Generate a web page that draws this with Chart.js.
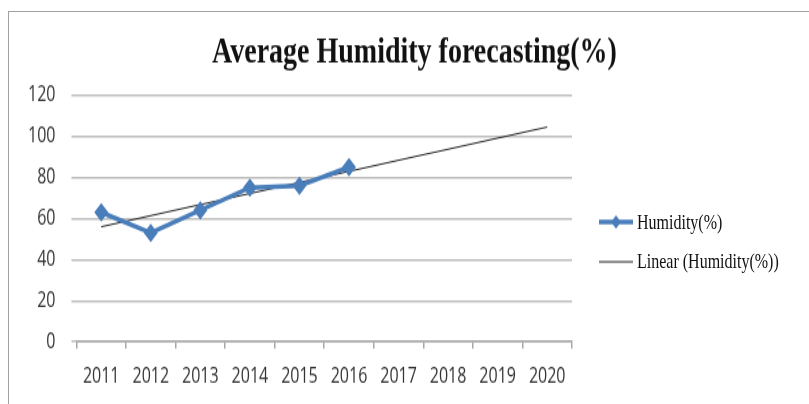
<!DOCTYPE html>
<html>
<head>
<meta charset="utf-8">
<script src="https://cdn.jsdelivr.net/npm/chart.js@4.4.1/dist/chart.umd.min.js"></script>
<style>
  html, body { margin: 0; padding: 0; background: #fff; }
  body { width: 809px; height: 404px; overflow: hidden; position: relative; }
  #marco {
    position: absolute; left: 8px; top: 11px; width: 820px; height: 420px;
    border: 1.5px solid #a0a0a0;
  }
  /* la imagen original esta estirada en vertical */
  #caja {
    position: absolute; left: 0; top: 0; width: 809px; height: 304px;
    transform: scaleY(1.329); transform-origin: 0 0;
  }
  #leyenda {
    position: absolute; left: 598px; top: 152px;
    font-family: "Liberation Serif", serif; font-size: 16px; color: #111;
  }
  .fila { display: flex; align-items: center; height: 30px; white-space: nowrap; }
  .fila canvas { margin-right: 3px; }
</style>
</head>
<body>
<div id="marco"></div>
<div id="caja">
  <canvas id="grafico" width="809" height="304"></canvas>
  <div id="leyenda"></div>
</div>
<script>
  const anios = ["2011", "2012", "2013", "2014", "2015", "2016", "2017", "2018", "2019", "2020"];
  const humedad = [63, 53, 64, 75, 76, 85, null, null, null, null];
  // linea de tendencia: extremos 2011 y 2020
  const tendencia = [56, null, null, null, null, null, null, null, null, 104.5];
  const marcasY = [0, 20, 40, 60, 80, 100, 120];
  const titulo = "Average Humidity forecasting(%)";

  const azul = "#4a7ebb";
  const negro = "#222222";

  // el titulo va centrado en todo el ancho, no sobre el area del grafico
  const tituloCentrado = {
    id: "tituloCentrado",
    afterDraw(chart) {
      const b = chart.titleBlock;
      const c = chart.ctx;
      c.save();
      c.fillStyle = "#111";
      c.font = "bold 28px 'Liberation Serif'";
      c.textAlign = "center";
      c.textBaseline = "middle";
      c.fillText(titulo, chart.width / 2 + 10, (b.top + b.bottom) / 2);
      c.restore();
    },
  };

  const ctx = document.getElementById("grafico").getContext("2d");

  window.miGrafico = new Chart(ctx, {
    type: "line",
    data: {
      labels: anios,
      datasets: [
        {
          label: "Humidity(%)",
          data: humedad,
          borderColor: azul,
          backgroundColor: azul,
          borderWidth: 3.5,
          pointStyle: "rectRot",
          pointRadius: 7,
          pointBorderWidth: 0,
          tension: 0,
        },
        {
          label: "Linear (Humidity(%))",
          data: tendencia,
          spanGaps: true,
          borderColor: negro,
          backgroundColor: negro,
          borderWidth: 1,
          pointRadius: 0,
        },
      ],
    },
    plugins: [tituloCentrado],
    options: {
      responsive: false,
      animation: false,
      layout: { padding: { top: 8, left: 12, right: 237, bottom: 0 } },
      plugins: {
        title: {
          display: true,
          text: titulo,
          color: "rgba(0,0,0,0)",
          font: { family: "Liberation Serif", size: 28, weight: "bold" },
          padding: { top: 13, bottom: 17 },
        },
        legend: { display: false },
        tooltip: { enabled: false },
      },
      scales: {
        x: {
          offset: true,
          afterFit: (eje) => {
            eje.height = 46.8;
          },
          grid: {
            offset: true,
            drawOnChartArea: false,
            drawTicks: true,
            tickLength: 5,
            color: "#a6a6a6",
            lineWidth: 1.5,
          },
          border: { color: "#a6a6a6", width: 1.5 },
          ticks: {
            color: "#333",
            font: { family: "Open Sans", size: 16 },
            padding: 11.5,
            maxRotation: 0,
          },
        },
        y: {
          min: 0,
          max: 120,
          afterBuildTicks: (eje) => {
            eje.ticks = marcasY.map((v) => ({ value: v }));
          },
          grid: {
            color: "#bdbdbd",
            lineWidth: 1.5,
            tickLength: 5,
          },
          border: { display: false },
          ticks: {
            color: "#333",
            font: { family: "Open Sans", size: 16 },
            padding: 16,
          },
        },
      },
    },
  });

  // leyenda a la derecha, con los mismos colores de las series
  function agregarFila(texto, conMarca, color, grosor) {
    const fila = document.createElement("div");
    fila.className = "fila";
    const icono = document.createElement("canvas");
    icono.width = 36;
    icono.height = 16;
    const c = icono.getContext("2d");
    c.strokeStyle = color;
    c.lineWidth = grosor;
    c.beginPath();
    c.moveTo(1, 8);
    c.lineTo(35, 8);
    c.stroke();
    if (conMarca) {
      c.fillStyle = color;
      c.beginPath();
      c.moveTo(18, 3);
      c.lineTo(23, 8);
      c.lineTo(18, 13);
      c.lineTo(13, 8);
      c.closePath();
      c.fill();
    }
    const etiqueta = document.createElement("span");
    etiqueta.textContent = texto;
    fila.appendChild(icono);
    fila.appendChild(etiqueta);
    document.getElementById("leyenda").appendChild(fila);
  }
  agregarFila("Humidity(%)", true, azul, 3.5);
  agregarFila("Linear (Humidity(%))", false, negro, 1);
</script>
</body>
</html>
